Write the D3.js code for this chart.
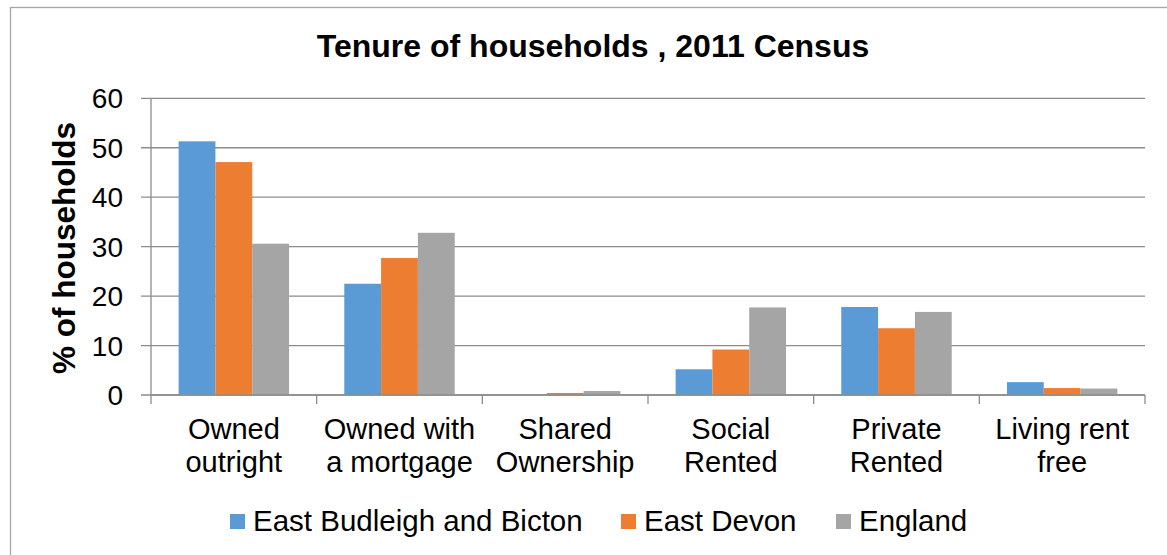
<!DOCTYPE html>
<html>
<head>
<meta charset="utf-8">
<script src="https://cdn.jsdelivr.net/npm/d3@7"></script>
<style>
  body { margin: 0; background: #fff; }
  text { font-family: "Liberation Sans", Arial, sans-serif; fill: #000; }
</style>
</head>
<body>
<div id="chart"></div>
<script>
// tenure categories (two-line labels)
var categories = ["Owned outright", "Owned with a mortgage", "Shared Ownership",
                  "Social Rented", "Private Rented", "Living rent free"];
var catLines = [["Owned", "outright"], ["Owned with", "a mortgage"], ["Shared", "Ownership"],
                ["Social", "Rented"], ["Private", "Rented"], ["Living rent", "free"]];
var series = ["East Budleigh and Bicton", "East Devon", "England"];
var eastBudleigh = [51.3, 22.5, 0.0, 5.2, 17.8, 2.6];
var eastDevon    = [47.1, 27.7, 0.4, 9.2, 13.5, 1.4];
var england      = [30.6, 32.8, 0.8, 17.7, 16.8, 1.3];
var yTicks = [0, 10, 20, 30, 40, 50, 60];
var colors = ["#5B9BD5", "#ED7D31", "#A5A5A5"];

(function() {
var values = [eastBudleigh, eastDevon, england];
var W = 1167, H = 555;
var pLeft = 151, pRight = 1145, pTop = 98.3, pBottom = 395;

var svg = d3.select("#chart").append("svg")
    .attr("width", W).attr("height", H);

// chart frame
svg.append("rect")
    .attr("x", 10.5).attr("y", 7.5)
    .attr("width", 1200).attr("height", 600)
    .attr("fill", "#fff").attr("stroke", "#a6a6a6").attr("stroke-width", 1.3);

var x = d3.scaleBand().domain(categories).range([pLeft, pRight]);
var xs = d3.scaleBand().domain(series).range([0, x.bandwidth()])
    .paddingOuter(0.75).paddingInner(0);
var y = d3.scaleLinear().domain([0, 60]).range([pBottom, pTop]);

// gridlines
svg.append("g").selectAll("line").data(yTicks).enter().append("line")
    .attr("x1", pLeft - 10).attr("x2", pRight)
    .attr("y1", function(d) { return y(d); })
    .attr("y2", function(d) { return y(d); })
    .attr("stroke", "#8c8c8c").attr("stroke-width", 1.3);

// y tick labels
svg.append("g").selectAll("text").data(yTicks).enter().append("text")
    .attr("x", 123).attr("y", function(d) { return y(d); })
    .attr("dy", "0.36em")
    .attr("text-anchor", "end")
    .style("font-size", "28px")
    .text(function(d) { return d; });

// bars
var groups = svg.append("g").selectAll("g").data(series).enter().append("g")
    .attr("fill", function(d, i) { return colors[i]; });
groups.selectAll("rect")
    .data(function(s, i) { return values[i].map(function(v, j) { return {s: s, c: categories[j], v: v}; }); })
    .enter().append("rect")
    .attr("x", function(d) { return x(d.c) + xs(d.s); })
    .attr("width", xs.bandwidth())
    .attr("y", function(d) { return y(d.v); })
    .attr("height", function(d) { return pBottom - y(d.v); });

// axes lines
svg.append("line").attr("x1", pLeft).attr("x2", pLeft).attr("y1", pTop).attr("y2", pBottom)
    .attr("stroke", "#8c8c8c").attr("stroke-width", 1.3);
svg.append("line").attr("x1", pLeft).attr("x2", pRight).attr("y1", pBottom).attr("y2", pBottom)
    .attr("stroke", "#8c8c8c").attr("stroke-width", 1.3);
var bounds = categories.map(function(c) { return x(c); }).concat([x.range()[1]]);
svg.append("g").selectAll("line").data(bounds).enter().append("line")
    .attr("x1", function(d) { return d; }).attr("x2", function(d) { return d; })
    .attr("y1", pBottom).attr("y2", pBottom + 9)
    .attr("stroke", "#8c8c8c").attr("stroke-width", 1.3);

// category labels
var cl = svg.append("g").selectAll("text").data(categories).enter().append("text")
    .attr("text-anchor", "middle")
    .style("font-size", "29px");
cl.selectAll("tspan").data(function(d, i) { return catLines[i]; }).enter().append("tspan")
    .attr("x", function() { var c = d3.select(this.parentNode).datum(); return x(c) + x.bandwidth() / 2; })
    .attr("y", function(d, i) { return 439 + i * 33; })
    .text(function(d) { return d; });

// title
svg.append("text")
    .attr("x", 593).attr("y", 57)
    .attr("text-anchor", "middle")
    .style("font-size", "32px").style("font-weight", "bold")
    .text("Tenure of households , 2011 Census");

// y axis title
svg.append("text")
    .attr("transform", "translate(75,248) rotate(-90)")
    .attr("text-anchor", "middle")
    .style("font-size", "31.5px").style("font-weight", "bold")
    .text("% of households");

// legend
var legX = [230, 621, 836];
var leg = svg.append("g").selectAll("g").data(series).enter().append("g")
    .attr("transform", function(d, i) { return "translate(" + legX[i] + ",514)"; });
leg.append("rect").attr("width", 15).attr("height", 15)
    .attr("fill", function(d, i) { return colors[i]; });
leg.append("text").attr("x", 23).attr("y", 17)
    .style("font-size", "29.5px")
    .text(function(d) { return d; });
})();
</script>
</body>
</html>
